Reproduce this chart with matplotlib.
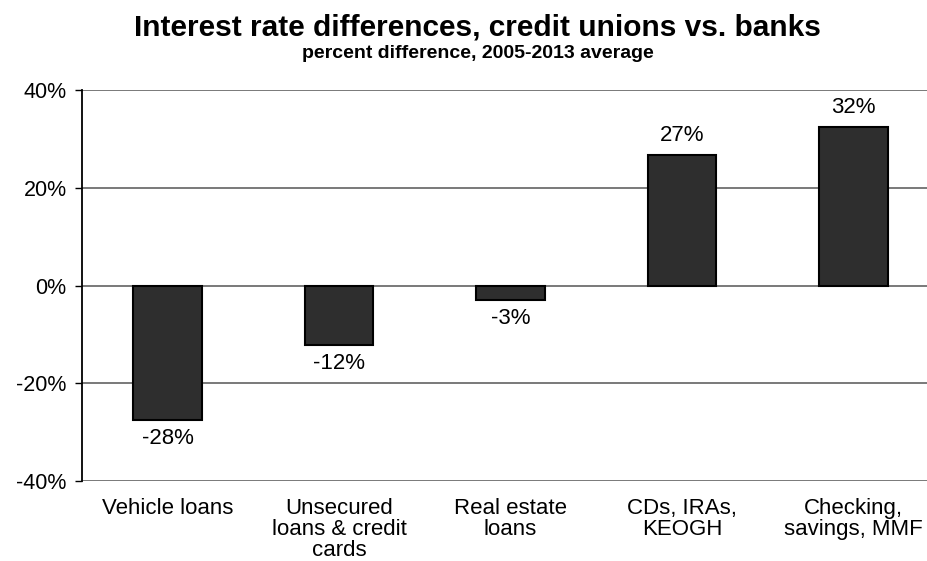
import numpy as np
import matplotlib
matplotlib.use("Agg")
import matplotlib.pyplot as plt
from matplotlib.ticker import FuncFormatter

plt.rcParams['font.family'] = ['Liberation Sans', 'DejaVu Sans']

# data
categories = ["Vehicle loans", "Unsecured\nloans & credit\ncards", "Real estate\nloans",
              "CDs, IRAs,\nKEOGH", "Checking,\nsavings, MMF"]
values = [-27.5, -12.1, -2.9, 26.8, 32.5]
labels = ["-28%", "-12%", "-3%", "27%", "32%"]

fig = plt.figure(figsize=(9.28, 5.61), dpi=100)
ax = fig.add_axes([82/928, 1 - 481/561, 857/928, (481 - 90)/561])

x = np.arange(len(categories))
bars = ax.bar(x, values, width=0.4, color="#2e2e2e", edgecolor="black", linewidth=1.5, zorder=3)

for b, v, lab in zip(bars, values, labels):
    if v >= 0:
        ax.annotate(lab, (b.get_x() + b.get_width()/2, v), xytext=(0, 6), textcoords="offset points",
                    ha="center", va="bottom", fontsize=16)
    else:
        ax.annotate(lab, (b.get_x() + b.get_width()/2, v), xytext=(0, -6), textcoords="offset points",
                    ha="center", va="top", fontsize=16)

ax.set_xlim(-0.5, len(categories) - 0.5)
ax.set_ylim(-40, 40)
ax.set_yticks([-40, -20, 0, 20, 40])
ax.yaxis.set_major_formatter(FuncFormatter(lambda v, p: f"{v:.0f}%"))
ax.yaxis.grid(True, color="#6e6e6e", linewidth=1.3, zorder=0)
ax.set_xticks(x)
ax.set_xticklabels(categories, fontsize=16, linespacing=1.0)
ax.tick_params(axis="x", length=0, pad=12)
ax.tick_params(axis="y", labelsize=15.5, length=5, width=1, pad=6)

for s in ["top", "right", "bottom"]:
    ax.spines[s].set_visible(False)
ax.spines["left"].set_linewidth(1.3)

fig.text(477/928, 1 - 36/561, "Interest rate differences, credit unions vs. banks",
         ha="center", va="baseline", fontsize=21.5, fontweight="bold")
fig.text(478/928, 1 - 58/561, "percent difference, 2005-2013 average",
         ha="center", va="baseline", fontsize=14, fontweight="bold")

fig.savefig("out.png", dpi=100)
